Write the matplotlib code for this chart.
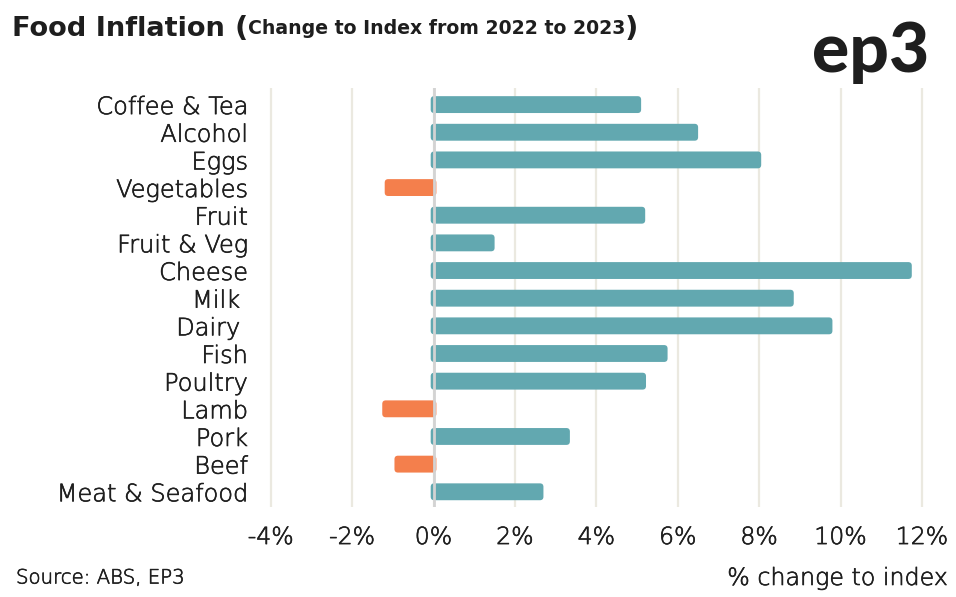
import numpy as np
import matplotlib
matplotlib.use('Agg')
import matplotlib.pyplot as plt
import matplotlib.patheffects as pe
from matplotlib.patches import FancyBboxPatch

plt.rcParams['font.family'] = ['DejaVu Sans']

categories = ['Coffee & Tea', 'Alcohol', 'Eggs', 'Vegetables', 'Fruit', 'Fruit & Veg',
              'Cheese', 'Milk ', 'Dairy ', 'Fish', 'Poultry', 'Lamb', 'Pork', 'Beef',
              'Meat & Seafood']
changes = [5.1, 6.5, 8.05, -1.2, 5.2, 1.5, 11.75, 8.85, 9.8, 5.75, 5.22, -1.26, 3.35, -0.96, 2.7]
ticks = [-4, -2, 0, 2, 4, 6, 8, 10, 12]

TEAL = '#62a8b0'
ORANGE = '#f47f4c'
GRID = '#ebe9e0'
INK = '#1e1e1e'
thick = [pe.withStroke(linewidth=0.45, foreground=INK)]

W, H = 956, 597
fig = plt.figure(figsize=(W / 100, H / 100), dpi=100)
ax_l, ax_r, ax_t, ax_b = 268.7, 924.0, 88, 507
ax = fig.add_axes([ax_l / W, 1 - ax_b / H, (ax_r - ax_l) / W, (ax_b - ax_t) / H])

xlim = (-4.05, 12.05)
ylim = (len(categories) - 1 + 0.55, -0.6)
ax.set_xlim(*xlim)
ax.set_ylim(*ylim)

# px per data unit, used to keep the corner rounding circular
px_x = (ax_r - ax_l) / (xlim[1] - xlim[0])
px_y = (ax_b - ax_t) / abs(ylim[0] - ylim[1])
aspect = px_x / px_y

y = np.arange(len(categories))
colors = [TEAL if v >= 0 else ORANGE for v in changes]
bars = ax.barh(y, changes, height=0.61, color=colors)

stub = 0.07
for b, c in zip(bars, colors):
    x0, y0, w, h = b.get_x(), b.get_y(), b.get_width(), b.get_height()
    left = min(x0, x0 + w)
    right = max(x0, x0 + w)
    left -= stub if left >= 0 else 0
    right += stub if right <= 0 else 0
    p = FancyBboxPatch((left, y0), right - left, h,
                       boxstyle='round,pad=0,rounding_size=%f' % (3.5 / px_x),
                       mutation_aspect=aspect, fc=c, ec='none', zorder=3)
    ax.add_patch(p)
    b.remove()

ax.axvline(0, color='#d3d3d3', lw=2.0, zorder=4)

ax.set_xticks(ticks)
ax.set_xticklabels([f'{t}%' for t in ticks])
ax.set_yticks(y)
ax.set_yticklabels(categories)
ax.grid(axis='x', color=GRID, lw=1.6, zorder=0)
ax.set_axisbelow(True)
ax.tick_params(length=0, colors=INK)
ax.tick_params(axis='x', pad=13, labelsize=17)
ax.tick_params(axis='y', pad=15, labelsize=17.3)
for lab in ax.get_xticklabels() + ax.get_yticklabels():
    lab.set_fontweight('light')
    lab.set_path_effects(thick)
for s in ax.spines.values():
    s.set_visible(False)

# title made of pieces with different sizes
r = fig.canvas.get_renderer()
x = 12 / W
ty = 1 - 29 / H
pieces = [('Food Inflation ', 19.6), ('(', 21), ('Change to Index from 2022 to 2023', 13.6), (')', 21)]
for txt, sz in pieces:
    t = fig.text(x, ty, txt, fontsize=sz, fontweight='bold', color=INK, va='center', ha='left')
    bb = t.get_window_extent(renderer=r)
    x += bb.width / W

fig.text(929 / W, 1 - 53 / H, 'ep3', family='Lato', fontsize=50, fontweight='black', color=INK,
         ha='right', va='center')

fig.text(16 / W, 1 - 578 / H, 'Source: ABS, EP3', fontsize=14.2, fontweight='light',
         color=INK, va='center', path_effects=thick)
fig.text(948 / W, 1 - 578 / H, '% change to index', fontsize=17.1, fontweight='light',
         color=INK, va='center', ha='right', path_effects=thick)

fig.savefig('out.png', dpi=100, facecolor='white')
